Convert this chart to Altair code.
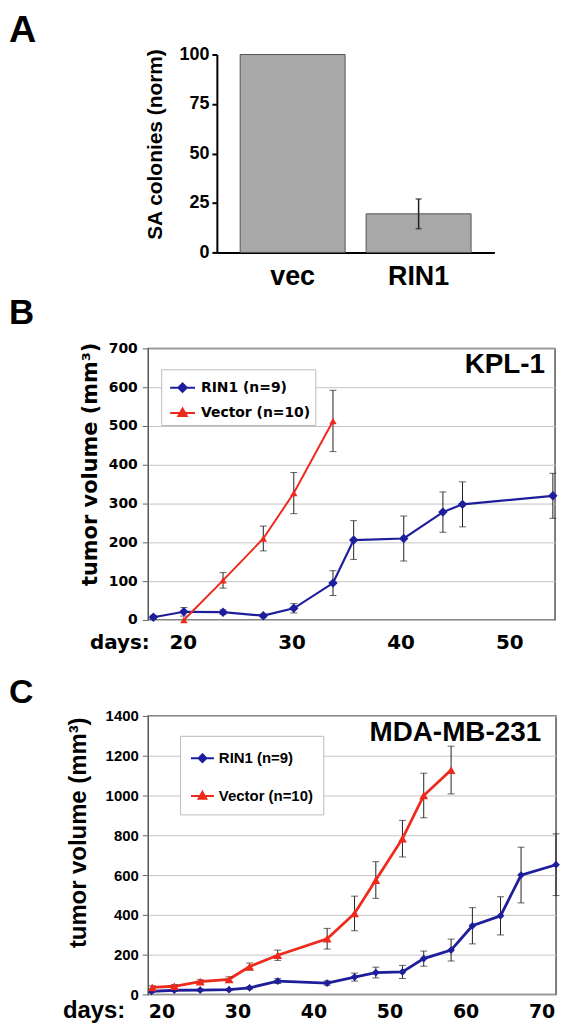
import altair as alt
import pandas as pd

# ---------------- data ----------------
# Panel A
a_groups = ["vec", "RIN1"]
a_values = [100, 19.5]
a_errors = [0, 7.5]

# Panel B (KPL-1)
series_names = ["RIN1 (n=9)", "Vector (n=10)"]
b_rin1_days = [17.3, 20.1, 23.7, 27.4, 30.2, 33.8, 35.7, 40.3, 43.9, 45.7, 54.0]
b_rin1_vol = [7, 21, 20, 11, 30, 95, 206, 210, 278, 298, 320]
b_rin1_err = [5, 11, 6, 4, 12, 32, 50, 58, 52, 58, 58]
b_vec_days = [20.1, 23.7, 27.4, 30.2, 33.8]
b_vec_vol = [0, 102, 210, 327, 513]
b_vec_err = [0, 20, 32, 53, 79]
b_xticks = [20, 30, 40, 50]
b_yticks = [0, 100, 200, 300, 400, 500, 600, 700]

# Panel C (MDA-MB-231)
c_rin1_days = [18.7, 21.7, 25.1, 28.9, 31.6, 35.3, 41.8, 45.4, 48.2, 51.7, 54.5, 58.1, 60.9, 64.6, 67.3, 71.9]
c_rin1_vol = [15, 21, 22, 24, 33, 67, 57, 87, 110, 113, 180, 223, 345, 395, 600, 652]
c_rin1_err = [6, 5, 5, 5, 6, 12, 11, 20, 27, 33, 38, 55, 91, 96, 140, 155]
c_vec_days = [18.8, 21.7, 25.1, 28.9, 31.6, 35.3, 41.8, 45.4, 48.2, 51.7, 54.5, 58.1]
c_vec_vol = [35, 41, 64, 76, 140, 197, 280, 407, 575, 783, 1000, 1128]
c_vec_err = [8, 8, 10, 12, 18, 26, 52, 87, 92, 92, 112, 120]
c_xticks = [20, 30, 40, 50, 60, 70]
c_yticks = [0, 200, 400, 600, 800, 1000, 1200, 1400]

BLUE = "#1e1e9c"
RED = "#ee2a1c"
ERR = "#222222"
ARIAL = "Liberation Sans, Arial, sans-serif"
VERDANA = "DejaVu Sans, Verdana, sans-serif"

# legend symbols: a short line with the marker in the middle
DIAMOND_PATH = "M-1,0L1,0M0,-0.34L0.34,0L0,0.34L-0.34,0ZM0,-0.17L0.17,0L0,0.17L-0.17,0Z"
TRI_PATH = "M-1,0L1,0M0,-0.36L0.34,0.24L-0.34,0.24ZM0,-0.12L0.14,0.12L-0.14,0.12Z"

LETTER_X = -140


def letter(txt, dy, size):
    return alt.Chart(pd.DataFrame({"t": [txt]})).mark_text(
        align="left", baseline="top", font=ARIAL, fontSize=size,
        fontWeight="bold", color="black"
    ).encode(text="t:N", x=alt.value(LETTER_X), y=alt.value(dy))


def label_text(txt, dx, dy, size, font=ARIAL):
    return alt.Chart(pd.DataFrame({"t": [txt]})).mark_text(
        align="right", baseline="alphabetic", font=font, fontSize=size,
        fontWeight="bold", color="black"
    ).encode(text="t:N", x=alt.value(dx), y=alt.value(dy))


# ---------------- Panel A ----------------
A_W, A_H = 348, 199
A_AX = 69  # y axis sits this far right of the common left edge
dfA = pd.DataFrame({"group": a_groups, "value": a_values, "err": a_errors})
dfA["lo"] = dfA["value"] - dfA["err"]
dfA["hi"] = dfA["value"] + dfA["err"]

xA = alt.X("group:N", sort=a_groups,
           scale=alt.Scale(paddingInner=0.167, paddingOuter=0.185, range=[A_AX, A_W]),
           axis=alt.Axis(title=None, labelAngle=0, labelFont=ARIAL, labelFontSize=27,
                         labelFontWeight="bold", labelColor="black", ticks=False, tickSize=0,
                         labelBaseline="alphabetic", labelPadding=32,
                         domainColor="black", domainWidth=2))
yA_axis = alt.Axis(values=[0, 25, 50, 75, 100], title="SA colonies (norm)", grid=False,
                   offset=-A_AX,
                   titleFont=ARIAL, titleFontSize=21, titleFontWeight="bold", titleColor="black",
                   titleX=-62, titleY=90, titleBaseline="middle", titleAlign="center",
                   labelFont=ARIAL, labelFontSize=18, labelFontWeight="bold", labelColor="black",
                   labelPadding=3, tickSize=5, tickWidth=2, tickColor="black",
                   domainColor="black", domainWidth=2)
yA_scale = alt.Scale(domain=[0, 100], nice=False)

barsA = alt.Chart(dfA).mark_bar(color="#a8a8a8", stroke="#555555", strokeWidth=1).encode(
    x=xA, y=alt.Y("value:Q", scale=yA_scale, axis=yA_axis))
errA_df = dfA[dfA["err"] > 0]
ruleA = alt.Chart(errA_df).mark_rule(color=ERR, strokeWidth=1.5).encode(
    x=xA, y=alt.Y("lo:Q", scale=yA_scale, axis=yA_axis), y2="hi:Q")
tickA_lo = alt.Chart(errA_df).mark_tick(color=ERR, orient="horizontal", size=6, thickness=1.5).encode(
    x=xA, y=alt.Y("lo:Q", scale=yA_scale, axis=yA_axis))
tickA_hi = alt.Chart(errA_df).mark_tick(color=ERR, orient="horizontal", size=6, thickness=1.5).encode(
    x=xA, y=alt.Y("hi:Q", scale=yA_scale, axis=yA_axis))

panelA = alt.layer(barsA, ruleA, tickA_lo, tickA_hi, letter("A", -43, 38)).properties(
    width=A_W, height=A_H, view=alt.ViewBackground(stroke="transparent"))


# ---------------- line panels ----------------
def series_layers(days, vol, err, x_enc_fn, y_enc_fn, color, shape, msize, lw, tick_w):
    df = pd.DataFrame({"day": days, "vol": vol, "err": err})
    df["lo"] = df["vol"] - df["err"]
    df["hi"] = df["vol"] + df["err"]
    e = df[df["err"] > 0]
    line = alt.Chart(df).mark_line(color=color, strokeWidth=lw).encode(
        x=x_enc_fn("day"), y=y_enc_fn("vol"))
    rule = alt.Chart(e).mark_rule(color=ERR, strokeWidth=1).encode(
        x=x_enc_fn("day"), y=y_enc_fn("lo"), y2="hi:Q")
    t_lo = alt.Chart(e).mark_tick(color=ERR, orient="horizontal", size=tick_w, thickness=1).encode(
        x=x_enc_fn("day"), y=y_enc_fn("lo"))
    t_hi = alt.Chart(e).mark_tick(color=ERR, orient="horizontal", size=tick_w, thickness=1).encode(
        x=x_enc_fn("day"), y=y_enc_fn("hi"))
    pts = alt.Chart(df).mark_point(shape=shape, filled=True, color=color, size=msize, opacity=1).encode(
        x=x_enc_fn("day"), y=y_enc_fn("vol"))
    return [line, rule, t_lo, t_hi, pts]


def legend_layer(leg_kwargs):
    leg = alt.Legend(title=None, orient="none", **leg_kwargs)
    return alt.Chart(pd.DataFrame({"series": series_names})).transform_filter("false").mark_point(
        filled=False, opacity=1, strokeWidth=2, size=600
    ).encode(
        color=alt.Color("series:N", scale=alt.Scale(domain=series_names, range=[BLUE, RED]), legend=leg),
        shape=alt.Shape("series:N", scale=alt.Scale(domain=series_names, range=[DIAMOND_PATH, TRI_PATH]),
                        legend=leg),
    )


# ---------------- Panel B ----------------
B_W, B_H = 409, 273
xB_scale = alt.Scale(domain=[16.83, 54.2], nice=False, zero=False)
xB_axis = alt.Axis(values=b_xticks, grid=False, ticks=False, tickSize=0, domain=False,
                   labelFont=VERDANA, labelFontSize=20, labelFontWeight="bold", labelColor="black",
                   labelBaseline="alphabetic", labelPadding=29, labelOverlap=False,
                   title="days:", titleFont=VERDANA, titleFontSize=20, titleFontWeight="bold",
                   titleColor="black", titleX=-29, titleY=29, titleBaseline="alphabetic",
                   titleAlign="center")
yB_scale = alt.Scale(domain=[0, 700], nice=False)
yB_axis = alt.Axis(values=b_yticks, grid=True, gridColor="#c4c4c4", gridWidth=1, domain=False,
                   tickSize=6, tickColor="#666666", tickWidth=1,
                   labelFont=VERDANA, labelFontSize=14, labelFontWeight="bold", labelColor="black",
                   labelPadding=5,
                   title="tumor volume (mm³)", titleFont=VERDANA, titleFontSize=21,
                   titleFontWeight="bold", titleColor="black", titleX=-58, titleY=116,
                   titleBaseline="middle", titleAlign="center")


def xB(f):
    return alt.X(f"{f}:Q", scale=xB_scale, axis=xB_axis)


def yB(f):
    return alt.Y(f"{f}:Q", scale=yB_scale, axis=yB_axis)


legB = dict(legendX=13, legendY=21, fillColor="white", strokeColor="#bbbbbb", padding=5,
            symbolOffset=3, rowPadding=3.5, labelOffset=5, symbolSize=625, symbolStrokeWidth=2,
            labelFont=VERDANA, labelFontSize=14, labelFontWeight="bold", labelColor="black",
            labelLimit=400)

panelB = alt.layer(
    *series_layers(b_rin1_days, b_rin1_vol, b_rin1_err, xB, yB, BLUE, "diamond", 90, 2.2, 7),
    *series_layers(b_vec_days, b_vec_vol, b_vec_err, xB, yB, RED, "triangle-up", 55, 2, 7),
    legend_layer(legB),
    label_text("KPL-1", B_W - 10, 25, 28),
    letter("B", -53, 35),
).properties(width=B_W, height=B_H, view=alt.ViewBackground(stroke="#555555", strokeWidth=1.5))

# ---------------- Panel C ----------------
C_W, C_H = 410, 280
xC_scale = alt.Scale(domain=[18.27, 71.9], nice=False, zero=False)
xC_axis = alt.Axis(values=c_xticks, grid=False, ticks=False, tickSize=0, domain=False,
                   labelFont=VERDANA, labelFontSize=19, labelFontWeight="bold", labelColor="black",
                   labelBaseline="alphabetic", labelPadding=23, labelOverlap=False,
                   title="days:", titleFont=ARIAL, titleFontSize=24, titleFontWeight="bold",
                   titleColor="black", titleX=-55, titleY=23, titleBaseline="alphabetic",
                   titleAlign="center")
yC_scale = alt.Scale(domain=[0, 1400], nice=False)
yC_axis = alt.Axis(values=c_yticks, format="d", grid=True, gridColor="#c4c4c4", gridWidth=1,
                   domain=False, tickSize=6, tickColor="#666666", tickWidth=1,
                   labelFont=ARIAL, labelFontSize=15, labelFontWeight="bold", labelColor="black",
                   labelPadding=4,
                   title="tumor volume (mm³)", titleFont=ARIAL, titleFontSize=24,
                   titleFontWeight="bold", titleColor="black", titleX=-70, titleY=117,
                   titleBaseline="middle", titleAlign="center")


def xC(f):
    return alt.X(f"{f}:Q", scale=xC_scale, axis=xC_axis)


def yC(f):
    return alt.Y(f"{f}:Q", scale=yC_scale, axis=yC_axis)


legC = dict(legendX=32, legendY=20, fillColor="white", strokeColor="#bbbbbb", padding=10,
            rowPadding=17, labelOffset=4, symbolSize=529, symbolStrokeWidth=2,
            labelFont=ARIAL, labelFontSize=15, labelFontWeight="bold", labelColor="black",
            labelLimit=400)

panelC = alt.layer(
    *series_layers(c_rin1_days, c_rin1_vol, c_rin1_err, xC, yC, BLUE, "diamond", 60, 2.8, 7),
    *series_layers(c_vec_days, c_vec_vol, c_vec_err, xC, yC, RED, "triangle-up", 80, 2.8, 7),
    legend_layer(legC),
    label_text("MDA-MB-231", C_W - 15, 25, 28),
    letter("C", -40, 34),
).properties(width=C_W, height=C_H, view=alt.ViewBackground(stroke="#555555", strokeWidth=1.5))

chart = alt.vconcat(
    panelA, panelB, panelC, spacing=96.5, bounds="flush"
).properties(padding=0).resolve_scale(color="independent", shape="independent")

chart.save("out.html", embed_options={"renderer": "svg", "actions": False})
